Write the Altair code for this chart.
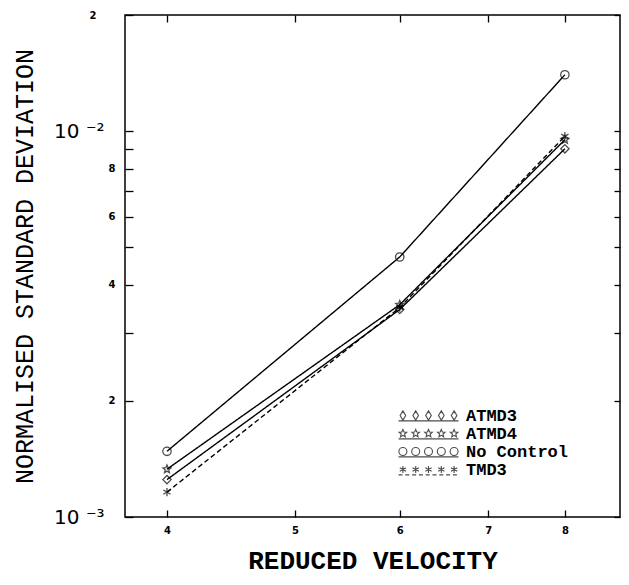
import math
import altair as alt
import pandas as pd

# ---- data ----
series = ["ATMD3", "ATMD4", "No Control", "TMD3"]
velocity = [4, 6, 8]
atmd3 = [1.25e-3, 3.45e-3, 9.00e-3]
atmd4 = [1.33e-3, 3.55e-3, 9.50e-3]
no_control = [1.48e-3, 4.72e-3, 1.40e-2]
tmd3 = [1.16e-3, 3.49e-3, 9.70e-3]

x_ticks = [4, 5, 6, 7, 8]
y_ticks = [0.001, 0.002, 0.003, 0.004, 0.005, 0.006, 0.007, 0.008, 0.009, 0.01, 0.02]

values = {"ATMD3": atmd3, "ATMD4": atmd4, "No Control": no_control, "TMD3": tmd3}
df = pd.DataFrame(
    [{"velocity": v, "sd": values[s][i], "series": s} for s in series for i, v in enumerate(velocity)]
)

# ---- marker shapes (unit paths) ----
def star_path(cx=0.0, cy=0.0, ro=1.0, ri=0.45):
    pts = []
    for k in range(10):
        r = ro if k % 2 == 0 else ri
        a = -math.pi / 2 + k * math.pi / 5
        pts.append(f"{cx + r*math.cos(a):.3f},{cy + r*math.sin(a):.3f}")
    return "M" + "L".join(pts) + "Z"

def asterisk_path(cx=0.0, cy=0.0, r=1.0):
    c, s = 0.866 * r, 0.5 * r
    return (f"M{cx},{cy-r}L{cx},{cy+r}"
            f"M{cx-c},{cy-s}L{cx+c},{cy+s}"
            f"M{cx-c},{cy+s}L{cx+c},{cy-s}")

def circle_path(cx=0.0, cy=0.0, r=1.0):
    return f"M{cx+r},{cy}A{r},{r} 0 1,1 {cx-r},{cy}A{r},{r} 0 1,1 {cx+r},{cy}"

def diamond_path(cx=0.0, cy=0.0):
    return f"M{cx},{cy-1.15}L{cx+0.7},{cy}L{cx},{cy+1.15}L{cx-0.7},{cy}Z"

point_shapes = ["diamond", star_path(), "circle", asterisk_path()]

centers = [-6.4, -3.2, 0, 3.2, 6.4]
solid_under = "M-7.5,1.35L7.5,1.35"
dashed_under = "".join(f"M{x:.2f},1.35L{x+1.0:.2f},1.35" for x in [-7.5 + 1.7 * k for k in range(9)])
legend_shapes = [
    "".join(diamond_path(c, 0) for c in centers) + solid_under,
    "".join(star_path(c, 0) for c in centers) + solid_under,
    "".join(circle_path(c, 0) for c in centers) + solid_under,
    "".join(asterisk_path(c, 0, 0.9) for c in centers) + dashed_under,
]

xscale = alt.Scale(type="log", domain=[3.718, 8.806], nice=False, zero=False)
yscale = alt.Scale(type="log", domain=[0.001, 0.02], nice=False, zero=False)

is_decade = "datum.value == 0.01 || datum.value == 0.001"
y_label_expr = (
    "datum.value == 0.01 ? '10 \u207b\u00b2' : datum.value == 0.001 ? '10 \u207b\u00b3' : "
    "datum.value == 0.02 ? '2' : "
    "(indexof([2,4,6,8], round(datum.value*1000)) >= 0 ? '' + round(datum.value*1000) : '')"
)

left_axis = alt.Axis(
    orient="left", values=y_ticks, labelExpr=y_label_expr,
    offset=-8, tickSize=8, tickWidth=1.3, tickColor="black", domain=False, grid=False,
    labelFont="DejaVu Sans", labelColor="black",
    labelFontSize={"condition": {"test": is_decade, "value": 20}, "value": 10},
    labelFontWeight={"condition": {"test": is_decade, "value": "normal"}, "value": "bold"},
    labelPadding={"condition": [{"test": is_decade, "value": 21},
                                {"test": "datum.value == 0.02", "value": 29}],
                  "value": 10},
    labelFlush=False,
    title="NORMALISED STANDARD DEVIATION", titleFont="Liberation Mono", titleFontSize=25,
    titleFontWeight="normal", titleColor="black", titlePadding=16,
)
right_axis = alt.Axis(
    orient="right", values=y_ticks, labels=False, offset=-6, tickSize=6, tickWidth=1.3,
    tickColor="black", domain=False, grid=False, title=None,
)
bottom_axis = alt.Axis(
    orient="bottom", values=x_ticks, format="d", offset=-7, tickSize=7, tickWidth=1.3,
    tickColor="black", domain=False, grid=False, labelFont="DejaVu Sans", labelFontSize=10,
    labelFontWeight="bold", labelColor="black", labelPadding=8, labelFlush=False,
    title="REDUCED VELOCITY", titleFont="Liberation Mono", titleFontSize=26,
    titleFontWeight="bold", titleColor="black", titlePadding=12,
)
top_axis = alt.Axis(
    orient="top", values=x_ticks, labels=False, offset=-7, tickSize=7, tickWidth=1.3,
    tickColor="black", domain=False, grid=False, title=None,
)

lines = alt.Chart(df).mark_line(color="black", strokeWidth=1.4).encode(
    x=alt.X("velocity:Q", scale=xscale, axis=bottom_axis),
    y=alt.Y("sd:Q", scale=yscale, axis=left_axis),
    detail="series:N",
    strokeDash=alt.StrokeDash(
        "series:N",
        scale=alt.Scale(domain=series, range=[[1, 0], [1, 0], [1, 0], [5, 3]]),
        legend=None,
    ),
)

points = alt.Chart(df).mark_point(color="black", filled=False, strokeWidth=1.3, size=70).encode(
    x=alt.X("velocity:Q", scale=xscale, axis=top_axis),
    y=alt.Y("sd:Q", scale=yscale, axis=right_axis),
    shape=alt.Shape("series:N", scale=alt.Scale(domain=series, range=point_shapes), legend=None),
)

legend_layer = alt.Chart(df).transform_filter("false").mark_point(
    color="black", filled=False, strokeWidth=1.1
).encode(
    shape=alt.Shape(
        "series:N",
        scale=alt.Scale(domain=series, range=legend_shapes),
        legend=alt.Legend(
            orient="none", legendX=295, legendY=392, title=None, padding=0,
            symbolSize=64, symbolStrokeColor="black", symbolFillColor="transparent",
            symbolStrokeWidth=1.1, labelFont="Liberation Mono", labelFontWeight="bold",
            labelFontSize=17, labelColor="black", labelOffset=29, rowPadding=0,
        ),
    ),
)

chart = (
    alt.layer(lines, points, legend_layer)
    .resolve_scale(shape="independent")
    .resolve_axis(x="independent", y="independent")
    .properties(
        width=495, height=502,
        autosize=alt.AutoSizeParams(type="none"),
        padding={"left": 117, "top": 7, "right": 1, "bottom": 60},
        background="white",
    )
    .configure_view(stroke="black", strokeWidth=1.5)
)

chart.save("out.html", embed_options={"renderer": "svg", "actions": False})
